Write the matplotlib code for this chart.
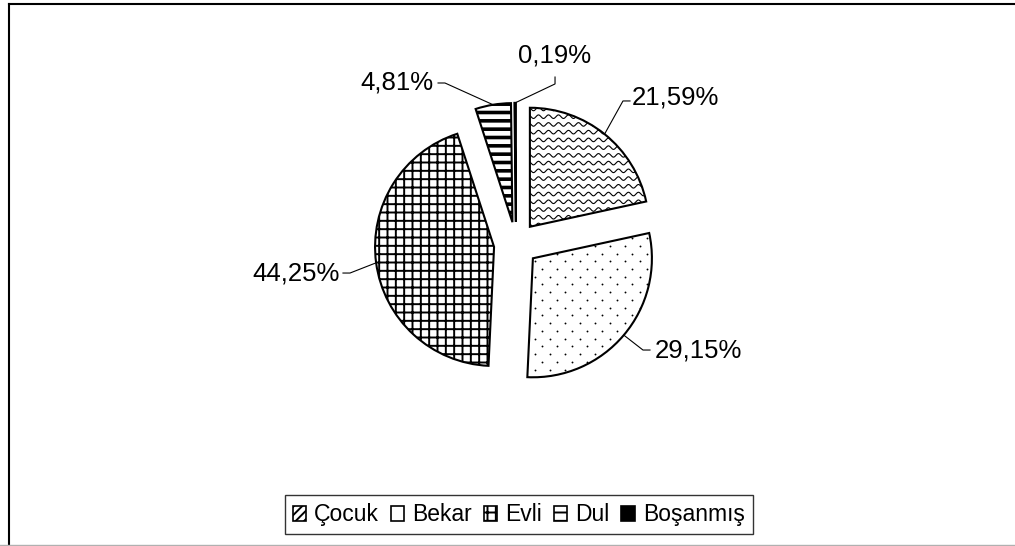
import numpy as np
import matplotlib.pyplot as plt
from matplotlib.patches import Patch
from matplotlib.lines import Line2D

plt.rcParams['font.family'] = ['Liberation Sans', 'DejaVu Sans']
plt.rcParams['hatch.linewidth'] = 1.4

# Data
categories = ['Çocuk', 'Bekar', 'Evli', 'Dul', 'Boşanmış']
shares = [21.59, 29.15, 44.25, 4.81, 0.19]
labels = [f"{v:.2f}".replace('.', ',') + '%' for v in shares]

# Styles
hatches = [None, None, '++', '--', None]
facecolors = ['white', 'white', 'white', 'white', 'black']
legend_hatches = ['////', None, '++', '--', None]

# Label layout (pie radius units): text position, alignment, leader elbow/end
text_pos = [(0.975, 1.227), (1.168, -0.891), (-1.479, -0.244), (-0.697, 1.353), (0.328, 1.588)]
text_ha = ['left', 'left', 'right', 'right', 'center']
leader_elbow = [(0.899, 1.202), (1.067, -0.891), (-1.395, -0.244), (-0.597, 1.353), (0.328, 1.345)]
leader_end = [(0.958, 1.202), (1.126, -0.891), (-1.454, -0.244), (-0.655, 1.353), (0.328, 1.403)]

W, H = 1015, 546
unit = 119.0          # pixels per pie radius
cx, cy = 516, 244     # pie centre in pixels (from top-left)

fig = plt.figure(figsize=(W / 100, H / 100), dpi=100)
ax = fig.add_axes([0, 0, 1, 1])

wedges, _ = ax.pie(shares, startangle=90, counterclock=False, radius=1,
                   explode=[0.186] * len(shares),
                   wedgeprops=dict(edgecolor='black', linewidth=1.5))
for w, fc, h in zip(wedges, facecolors, hatches):
    w.set_facecolor(fc)
    if h:
        w.set_hatch(h)
if hasattr(wedges[3], 'set_hatch_linewidth'):
    wedges[3].set_hatch_linewidth(2.6)

# wavy fill for Çocuk
w0 = wedges[0]
ext = w0.get_path().get_extents()
xs = np.linspace(ext.x0 - 0.05, ext.x1 + 0.05, 600)
for y0 in np.arange(ext.y0 - 0.05, ext.y1 + 0.05, 0.065):
    ln, = ax.plot(xs, y0 + 0.015 * np.sin(2 * np.pi * xs / 0.084), color='black', lw=0.8)
    ln.set_clip_path(w0)

# dotted fill for Bekar
w1 = wedges[1]
ext = w1.get_path().get_extents()
pts = []
for i, yy in enumerate(np.arange(ext.y0, ext.y1 + 0.07, 0.065)):
    off = 0.063 if i % 2 else 0.0
    for xx in np.arange(ext.x0 + off, ext.x1 + 0.13, 0.126):
        pts.append((xx, yy))
pts = np.array(pts)
sc = ax.scatter(pts[:, 0], pts[:, 1], s=1.8, color='black', linewidths=0)
sc.set_clip_path(w1)

# labels with leader lines
for w, lab, tp, ha, el, en in zip(wedges, labels, text_pos, text_ha, leader_elbow, leader_end):
    mid = np.deg2rad((w.theta1 + w.theta2) / 2)
    px, py = w.center[0] + w.r * np.cos(mid), w.center[1] + w.r * np.sin(mid)
    ax.plot([px, el[0], en[0]], [py, el[1], en[1]], color='black', lw=0.8)
    ax.text(tp[0], tp[1], lab, ha=ha, va='center', fontsize=18.5)

ax.set_xlim(-cx / unit, (W - cx) / unit)
ax.set_ylim(-(H - cy) / unit, cy / unit)
ax.set_aspect('auto')
ax.axis('off')

# legend
handles = [Patch(facecolor=fc, edgecolor='black', hatch=h, linewidth=1.2)
           for fc, h in zip(facecolors, legend_hatches)]
leg = fig.legend(handles, categories, loc='center', bbox_to_anchor=(0.511, 0.057),
                 ncol=5, fontsize=16.5, frameon=True, fancybox=False,
                 handlelength=0.6, handleheight=0.6, handletextpad=0.35,
                 columnspacing=0.5, borderpad=0.35, borderaxespad=0)
leg.get_frame().set_edgecolor('black')
leg.get_frame().set_linewidth(1.0)

# chart frame
fig.add_artist(Line2D([8.5 / W, 1], [1 - 4 / H, 1 - 4 / H], transform=fig.transFigure, color='black', lw=1.5))
fig.add_artist(Line2D([8.5 / W, 8.5 / W], [0, 1 - 4 / H], transform=fig.transFigure, color='black', lw=1.5))
fig.add_artist(Line2D([0, 1], [1.5 / H, 1.5 / H], transform=fig.transFigure, color='#b0b0b0', lw=1))

fig.savefig('out.png', dpi=100)
